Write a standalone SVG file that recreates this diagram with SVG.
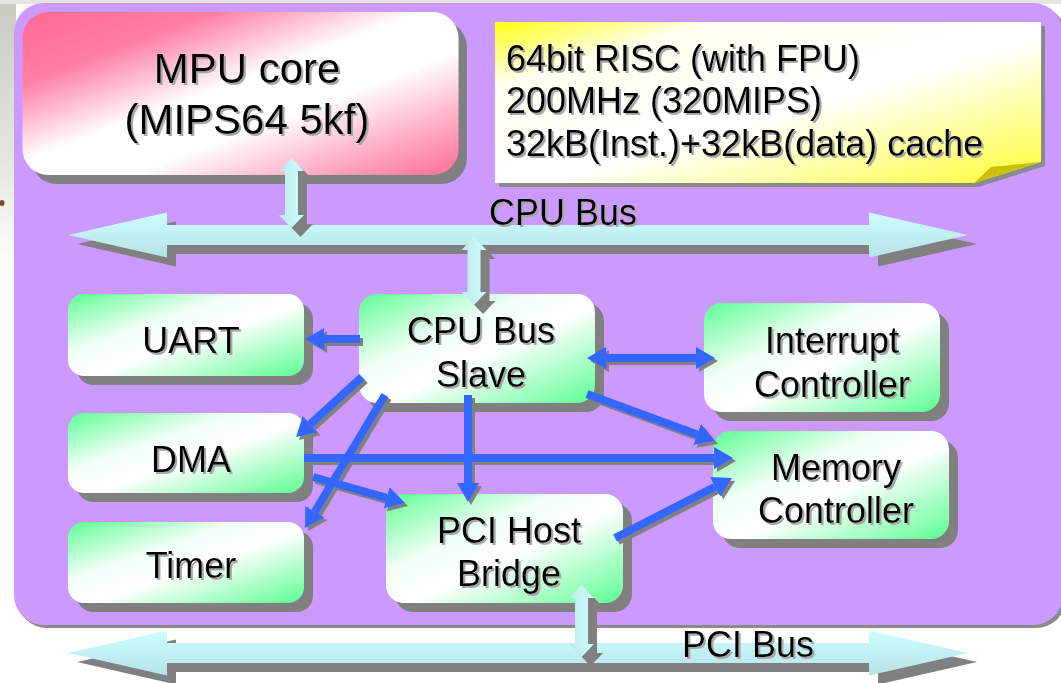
<svg xmlns="http://www.w3.org/2000/svg" width="1061" height="683" viewBox="0 0 1061 683">
<defs>
  <linearGradient id="gPink" x1="0" y1="0" x2="1" y2="1">
    <stop offset="0" stop-color="#FF6A95"/>
    <stop offset="0.22" stop-color="#FF7EA4"/>
    <stop offset="0.46" stop-color="#FFFFFF"/>
    <stop offset="0.62" stop-color="#FFFFFF"/>
    <stop offset="0.85" stop-color="#FFA3BC"/>
    <stop offset="1" stop-color="#FF6E98"/>
  </linearGradient>
  <linearGradient id="gGreen" x1="0" y1="0" x2="1" y2="1">
    <stop offset="0" stop-color="#5CFF92"/>
    <stop offset="0.35" stop-color="#F0FFF5"/>
    <stop offset="0.55" stop-color="#FFFFFF"/>
    <stop offset="1" stop-color="#5CFF92"/>
  </linearGradient>
  <linearGradient id="gYellow" x1="0" y1="0" x2="1" y2="1">
    <stop offset="0" stop-color="#FFFF10"/>
    <stop offset="0.2" stop-color="#FFFFF0"/>
    <stop offset="0.55" stop-color="#FFFFFF"/>
    <stop offset="1" stop-color="#FFFF33"/>
  </linearGradient>
  <linearGradient id="gCyan" x1="0" y1="0" x2="0" y2="1">
    <stop offset="0" stop-color="#CCFFFF"/>
    <stop offset="1" stop-color="#B6E2E6"/>
  </linearGradient>
  <linearGradient id="gCyanV" x1="0" y1="0" x2="1" y2="0">
    <stop offset="0" stop-color="#BEE8EA"/>
    <stop offset="1" stop-color="#CCFFFF"/>
  </linearGradient>
  <linearGradient id="gStrip" x1="0" y1="0" x2="0" y2="1">
    <stop offset="0" stop-color="#C9C9C2"/>
    <stop offset="0.6" stop-color="#E6E6E0"/>
    <stop offset="1" stop-color="#FFFFFF"/>
  </linearGradient>
  <filter id="ts" x="-10%" y="-30%" width="120%" height="160%">
    <feOffset in="SourceAlpha" dx="2" dy="2" result="o"/>
    <feFlood flood-color="#A8A8A8"/>
    <feComposite in2="o" operator="in" result="s"/>
    <feMerge><feMergeNode in="s"/><feMergeNode in="SourceGraphic"/></feMerge>
  </filter>
  <filter id="as" filterUnits="userSpaceOnUse" x="0" y="0" width="1061" height="683">
    <feOffset in="SourceAlpha" dx="3" dy="3" result="o"/>
    <feFlood flood-color="#808080"/>
    <feComposite in2="o" operator="in" result="s"/>
    <feMerge><feMergeNode in="s"/><feMergeNode in="SourceGraphic"/></feMerge>
  </filter>
  <marker id="ah" markerUnits="userSpaceOnUse" markerWidth="20" markerHeight="24" refX="0" refY="12" orient="auto-start-reverse" viewBox="0 0 20 24">
    <path d="M0,1 L19,12 L0,23 Z" fill="#3366FF"/>
  </marker>
  <path id="busShape" d="M68,235 L167,212.5 L167,225 L869,225 L869,212.5 L968,235 L869,257.5 L869,245 L167,245 L167,257.5 Z"/>
  <path id="vMPU" d="M291.5,158 L304,171 L298,171 L298,215 L304,215 L291.5,228 L279,215 L285,215 L285,171 L279,171 Z"/>
  <path id="vSlave" d="M474,237 L486.5,250 L480.5,250 L480.5,292 L486.5,292 L474,305 L461.5,292 L467.5,292 L467.5,250 L461.5,250 Z"/>
  <path id="vPCI" d="M581.5,585 L594,598 L588,598 L588,644 L594,644 L581.5,657 L569,644 L575,644 L575,598 L569,598 Z"/>
</defs>
<style>
  text { font-family: "Liberation Sans", Arial, sans-serif; fill: #000; filter: url(#ts); }
  .node { font-size: 36px; text-anchor: middle; }
  .spec { font-size: 36px; }
  .shadow { fill: #808080; }
  .green { fill: url(#gGreen); }
  .blue { stroke: #3366FF; stroke-width: 8; fill: none; marker-end: url(#ah); }
</style>

<!-- background -->
<rect x="0" y="0" width="1061" height="683" fill="#FFFFFF"/>
<rect x="0" y="0" width="16" height="270" fill="url(#gStrip)"/>
<rect x="0" y="0" width="1061" height="4" fill="#E4E4E0"/>
<ellipse cx="2" cy="203" rx="2.5" ry="3" fill="#6E5222"/>

<!-- panel -->
<g id="panel">
  <rect x="17" y="6" width="1049" height="622" rx="30" fill="#8A8A8A"/>
  <rect x="14" y="3" width="1049" height="622" rx="30" fill="#CC99FF"/>
</g>

<!-- buses -->
<g id="pci-bus">
  <use href="#busShape" transform="translate(9,427)" fill="#808080"/>
  <use href="#busShape" transform="translate(0,418)" fill="url(#gCyan)"/>
  <text x="682" y="657" style="font-size:36px">PCI Bus</text>
</g>
<g id="cpu-bus">
  <use href="#busShape" transform="translate(9,9)" fill="#808080"/>
  <use href="#busShape" fill="url(#gCyan)"/>
</g>

<!-- MPU core -->
<g id="mpu-core">
  <rect class="shadow" x="31" y="21" width="436" height="163" rx="26"/>
  <rect x="22.5" y="12" width="436" height="163" rx="26" fill="url(#gPink)"/>
  <text x="247" y="83" text-anchor="middle" style="font-size:42px">MPU core</text>
  <text x="247" y="134" text-anchor="middle" style="font-size:42px">(MIPS64 5kf)</text>
</g>

<!-- spec note -->
<g id="spec-note">
  <path d="M499,26 L1045,26 L1045,166 L978,187 L499,187 Z" fill="#8A8A8A"/>
  <path d="M495,22 L1041,22 L1041,162 L974,183 L495,183 Z" fill="url(#gYellow)"/>
  <path d="M974,183 L991,167 L1041,162 Z" fill="#C8C000"/>
  <text class="spec" x="506" y="71">64bit RISC (with FPU)</text>
  <text class="spec" x="506" y="113">200MHz (320MIPS)</text>
  <text class="spec" x="506" y="156">32kB(Inst.)+32kB(data) cache</text>
</g>

<g id="cpu-bus-label">
  <text x="489" y="225" style="font-size:36px">CPU Bus</text>
</g>

<!-- nodes -->
<g id="uart">
  <rect class="shadow" x="77" y="303" width="236" height="82" rx="16"/>
  <rect class="green" x="68" y="294" width="236" height="82" rx="16"/>
  <text class="node" x="191" y="353">UART</text>
</g>
<g id="dma">
  <rect class="shadow" x="77" y="422" width="236" height="80" rx="16"/>
  <rect class="green" x="68" y="413" width="236" height="80" rx="16"/>
  <text class="node" x="191" y="472">DMA</text>
</g>
<g id="timer">
  <rect class="shadow" x="77" y="531" width="236" height="81" rx="16"/>
  <rect class="green" x="68" y="522" width="236" height="81" rx="16"/>
  <text class="node" x="191" y="578">Timer</text>
</g>
<g id="cpu-bus-slave">
  <rect class="shadow" x="368" y="303" width="236" height="109" rx="18"/>
  <rect class="green" x="359" y="294" width="236" height="109" rx="18"/>
  <text class="node" x="481" y="343">CPU Bus</text>
  <text class="node" x="481" y="387">Slave</text>
</g>
<g id="pci-host-bridge">
  <rect class="shadow" x="395" y="503" width="237" height="109" rx="18"/>
  <rect class="green" x="386" y="494" width="237" height="109" rx="18"/>
  <text class="node" x="509" y="543">PCI Host</text>
  <text class="node" x="509" y="586">Bridge</text>
</g>
<g id="interrupt-controller">
  <rect class="shadow" x="713" y="312" width="236" height="109" rx="18"/>
  <rect class="green" x="704" y="303" width="236" height="109" rx="18"/>
  <text class="node" x="832" y="353">Interrupt</text>
  <text class="node" x="832" y="397">Controller</text>
</g>
<g id="memory-controller">
  <rect class="shadow" x="722" y="440" width="236" height="108" rx="18"/>
  <rect class="green" x="713" y="431" width="236" height="108" rx="18"/>
  <text class="node" x="836" y="480">Memory</text>
  <text class="node" x="836" y="523">Controller</text>
</g>

<!-- connectors -->
<g id="connectors">
  <use href="#vMPU" transform="translate(9,9)" fill="#808080"/>
  <use href="#vMPU" fill="url(#gCyanV)"/>
  <use href="#vSlave" transform="translate(9,9)" fill="#808080"/>
  <use href="#vSlave" fill="url(#gCyanV)"/>
  <use href="#vPCI" transform="translate(9,9)" fill="#808080"/>
  <use href="#vPCI" fill="url(#gCyanV)"/>
  <g filter="url(#as)">
    <line class="blue" x1="360" y1="339" x2="324" y2="339"/>
    <line class="blue" x1="304" y1="458" x2="714" y2="458"/>
    <line class="blue" x1="362" y1="377" x2="310.1" y2="424.2"/>
    <line class="blue" x1="385" y1="395" x2="314.8" y2="511.7"/>
    <line class="blue" x1="313" y1="477" x2="386.7" y2="497.8"/>
    <line class="blue" x1="468" y1="395" x2="468" y2="483"/>
    <line class="blue" x1="606" y1="358" x2="696" y2="358" style="marker-start:url(#ah)"/>
    <line class="blue" x1="587" y1="394" x2="697.2" y2="434.4"/>
    <line class="blue" x1="615" y1="538" x2="715.1" y2="486.7"/>
  </g>
</g>
</svg>
